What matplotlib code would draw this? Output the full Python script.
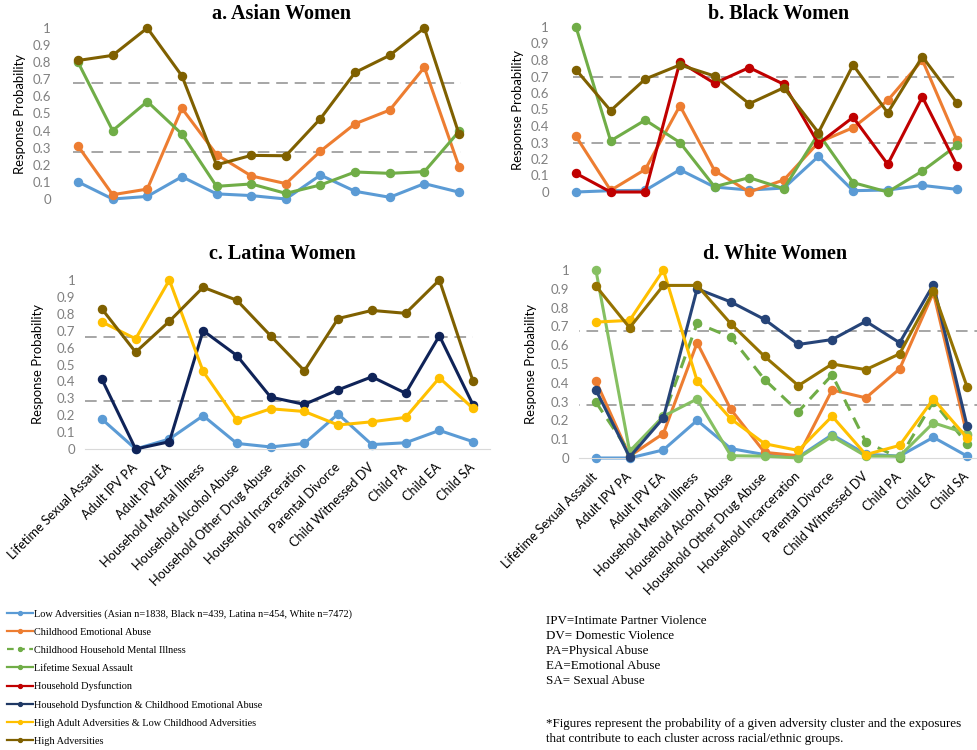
import matplotlib
matplotlib.use("Agg")
import matplotlib.pyplot as plt
from matplotlib.lines import Line2D

plt.rcParams['font.family'] = ['Lato', 'DejaVu Sans']

W, H = 977, 750

categories = ['Lifetime Sexual Assault', 'Adult IPV PA', 'Adult IPV EA',
              'Household Mental Illness', 'Household Alcohol Abuse',
              'Household Other Drug Abuse', 'Household Incarceration',
              'Parental Divorce', 'Child Witnessed DV', 'Child PA',
              'Child EA', 'Child SA']
y_ticks = [0, 0.1, 0.2, 0.3, 0.4, 0.5, 0.6, 0.7, 0.8, 0.9, 1]
y_tick_labels = ['0', '0.1', '0.2', '0.3', '0.4', '0.5', '0.6', '0.7', '0.8', '0.9', '1']

series_names = ['Low Adversities (Asian n=1838, Black n=439, Latina n=454, White n=7472)',
                'Childhood Emotional Abuse',
                'Childhood Household Mental Illness',
                'Lifetime Sexual Assault',
                'Household Dysfunction',
                'Household Dysfunction & Childhood Emotional Abuse',
                'High Adult Adversities & Low Childhood Adversities',
                'High Adversities']
series_colors = ['#5B9BD5', '#ED7D31', '#70AD47', '#70AD47',
                 '#C00000', '#1F3864', '#FFC000', '#7F6000']
series_dashed = [False, False, True, False, False, False, False, False]

# a. Asian women
asian_low = [0.10, 0.00, 0.015, 0.13, 0.03, 0.02, 0.00, 0.14, 0.045, 0.01, 0.09, 0.04]
asian_cea = [0.31, 0.025, 0.058, 0.53, 0.26, 0.135, 0.09, 0.28, 0.44, 0.52, 0.77, 0.19]
asian_lsa = [0.80, 0.40, 0.57, 0.38, 0.074, 0.088, 0.033, 0.082, 0.158, 0.15, 0.16, 0.395]
asian_high = [0.81, 0.84, 1.00, 0.72, 0.20, 0.255, 0.253, 0.47, 0.74, 0.84, 1.00, 0.38]

# b. Black women
black_low = [0.00, 0.008, 0.01, 0.135, 0.03, 0.012, 0.024, 0.216, 0.008, 0.012, 0.04, 0.016]
black_cea = [0.337, 0.01, 0.137, 0.523, 0.13, 0.00, 0.073, 0.30, 0.39, 0.555, 0.80, 0.313]
black_lsa = [1.00, 0.31, 0.436, 0.30, 0.032, 0.087, 0.02, 0.354, 0.057, 0.00, 0.127, 0.283]
black_hd = [0.113, 0.00, 0.00, 0.788, 0.659, 0.754, 0.653, 0.293, 0.453, 0.168, 0.576, 0.16]
black_high = [0.741, 0.493, 0.685, 0.77, 0.703, 0.535, 0.632, 0.36, 0.77, 0.48, 0.82, 0.54]

# c. Latina women
latina_low = [0.177, 0.00, 0.059, 0.197, 0.033, 0.012, 0.033, 0.207, 0.026, 0.037, 0.11, 0.043]
latina_hdcea = [0.413, 0.00, 0.043, 0.70, 0.553, 0.307, 0.264, 0.35, 0.427, 0.33, 0.67, 0.26]
latina_adult = [0.752, 0.652, 1.00, 0.459, 0.171, 0.238, 0.222, 0.142, 0.161, 0.187, 0.421, 0.24]
latina_high = [0.829, 0.573, 0.756, 0.957, 0.88, 0.67, 0.463, 0.772, 0.82, 0.803, 1.00, 0.40]

# d. White women
white_low = [0.00, 0.00, 0.043, 0.20, 0.05, 0.018, 0.005, 0.124, 0.02, 0.01, 0.11, 0.01]
white_cea = [0.41, 0.01, 0.13, 0.613, 0.258, 0.03, 0.012, 0.362, 0.32, 0.474, 0.88, 0.12]
white_chmi = [0.297, 0.03, 0.22, 0.716, 0.643, 0.417, 0.247, 0.442, 0.085, 0.00, 0.30, 0.075]
white_lsa = [1.00, 0.036, 0.222, 0.314, 0.012, 0.01, 0.00, 0.115, 0.01, 0.01, 0.187, 0.13]
white_hdcea = [0.362, 0.005, 0.213, 0.90, 0.83, 0.737, 0.604, 0.63, 0.727, 0.613, 0.922, 0.169]
white_adult = [0.723, 0.732, 1.00, 0.41, 0.208, 0.076, 0.04, 0.222, 0.018, 0.067, 0.314, 0.107]
white_high = [0.915, 0.693, 0.918, 0.918, 0.714, 0.54, 0.385, 0.50, 0.47, 0.554, 0.888, 0.378]

# dashed reference levels per panel
ref_asian = [0.68, 0.277]
ref_black = [0.695, 0.294]
ref_latina = [0.665, 0.283]
ref_white = [0.677, 0.28]

panels = [
    dict(title='a. Asian Women', box=(60.7, 476.3, 199, 28), title_xy=(282, 14),
         refs=ref_asian, ref_span=(-0.15, 11.05), xlabels=False, labelpad=5,
         data={0: asian_low, 1: asian_cea, 3: asian_lsa, 7: asian_high}, colors={}),
    dict(title='b. Black Women', box=(558.7, 974.3, 192, 27), title_xy=(779, 14),
         refs=ref_black, ref_span=(-0.1, 10.95), xlabels=False, labelpad=5,
         data={0: black_low, 1: black_cea, 3: black_lsa, 4: black_hd, 7: black_high}, colors={}),
    dict(title='c. Latina Women', box=(85, 490, 449, 280), title_xy=(282, 254),
         refs=ref_latina, ref_span=(-0.5, 11.0), xlabels=True, labelpad=9,
         data={0: latina_low, 5: latina_hdcea, 6: latina_adult, 7: latina_high},
         colors={5: '#0F2358'}),
    dict(title='d. White Women', box=(579, 984, 458, 270), title_xy=(775, 254),
         refs=ref_white, ref_span=(-0.83, 11.3), xlabels=True, labelpad=10,
         data={0: white_low, 1: white_cea, 2: white_chmi, 3: white_lsa,
               5: white_hdcea, 6: white_adult, 7: white_high},
         colors={3: '#86C062', 5: '#264478', 7: '#957200'}),
]

fig = plt.figure(figsize=(W / 100, H / 100), dpi=100)

for p in panels:
    left, right, y0, y1 = p['box']
    ax = fig.add_axes([left / W, 1 - y0 / H, (right - left) / W, (y0 - y1) / H])
    x = list(range(len(categories)))
    for lvl in p['refs']:
        ax.hlines(lvl, p['ref_span'][0], p['ref_span'][1], colors='#A6A6A6',
                  linestyles=(0, (6, 3.5)), linewidth=1.4, zorder=1)
    for k in sorted(p['data']):
        color = p['colors'].get(k, series_colors[k])
        ls = (0, (4, 2.6)) if series_dashed[k] else '-'
        ax.plot(x, p['data'][k], color=color, linestyle=ls, linewidth=2.2,
                marker='o', markersize=5.8, clip_on=False, zorder=2 + k)
    ax.set_xlim(-0.5, 11.5)
    ax.set_ylim(0, 1)
    ax.set_yticks(y_ticks)
    ax.set_yticklabels(y_tick_labels, color='#808080', fontsize=9.5)
    ax.tick_params(axis='both', length=0)
    ax.tick_params(axis='y', pad=7)
    for s in ['top', 'right', 'left']:
        ax.spines[s].set_visible(False)
    ax.set_ylabel('Response Probability', fontsize=9.4, labelpad=p['labelpad'])
    ax.set_facecolor('none')
    if p['xlabels']:
        ax.spines['bottom'].set_color('#D9D9D9')
        ax.set_xticks(x)
        ax.set_xticklabels(categories, rotation=45, ha='right', va='center',
                           rotation_mode='anchor', fontsize=9.2)
        ax.tick_params(axis='x', pad=12)
    else:
        ax.spines['bottom'].set_visible(False)
        ax.set_xticks([])
    fig.text(p['title_xy'][0] / W, 1 - p['title_xy'][1] / H, p['title'],
             family='Liberation Serif', fontweight='bold', fontsize=14.5,
             ha='center', va='center')

handles = []
for k in range(len(series_names)):
    handles.append(Line2D([0], [0], color=series_colors[k], linewidth=1.6,
                          linestyle=(0, (3, 2)) if series_dashed[k] else '-',
                          marker='o', markersize=2.8))
fig.legend(handles, series_names, loc='upper left', bbox_to_anchor=(0.007, 1 - 609 / H),
           frameon=False, prop={'family': 'Liberation Serif', 'size': 7.4},
           handlelength=2.5, handletextpad=0.1, labelspacing=0.86,
           borderpad=0, borderaxespad=0)

abbrev = ('IPV=Intimate Partner Violence\nDV= Domestic Violence\nPA=Physical Abuse\n'
          'EA=Emotional Abuse\nSA= Sexual Abuse')
fig.text(546 / W, 1 - 615 / H, abbrev, family='Liberation Serif', fontsize=9.4,
         ha='left', va='top', linespacing=1.32)
note = ('*Figures represent the probability of a given adversity cluster and the exposures\n'
        'that contribute to each cluster across racial/ethnic groups.')
fig.text(546 / W, 1 - 718 / H, note, family='Liberation Serif', fontsize=9.4,
         ha='left', va='top', linespacing=1.32)

fig.savefig('out.png', dpi=100)
